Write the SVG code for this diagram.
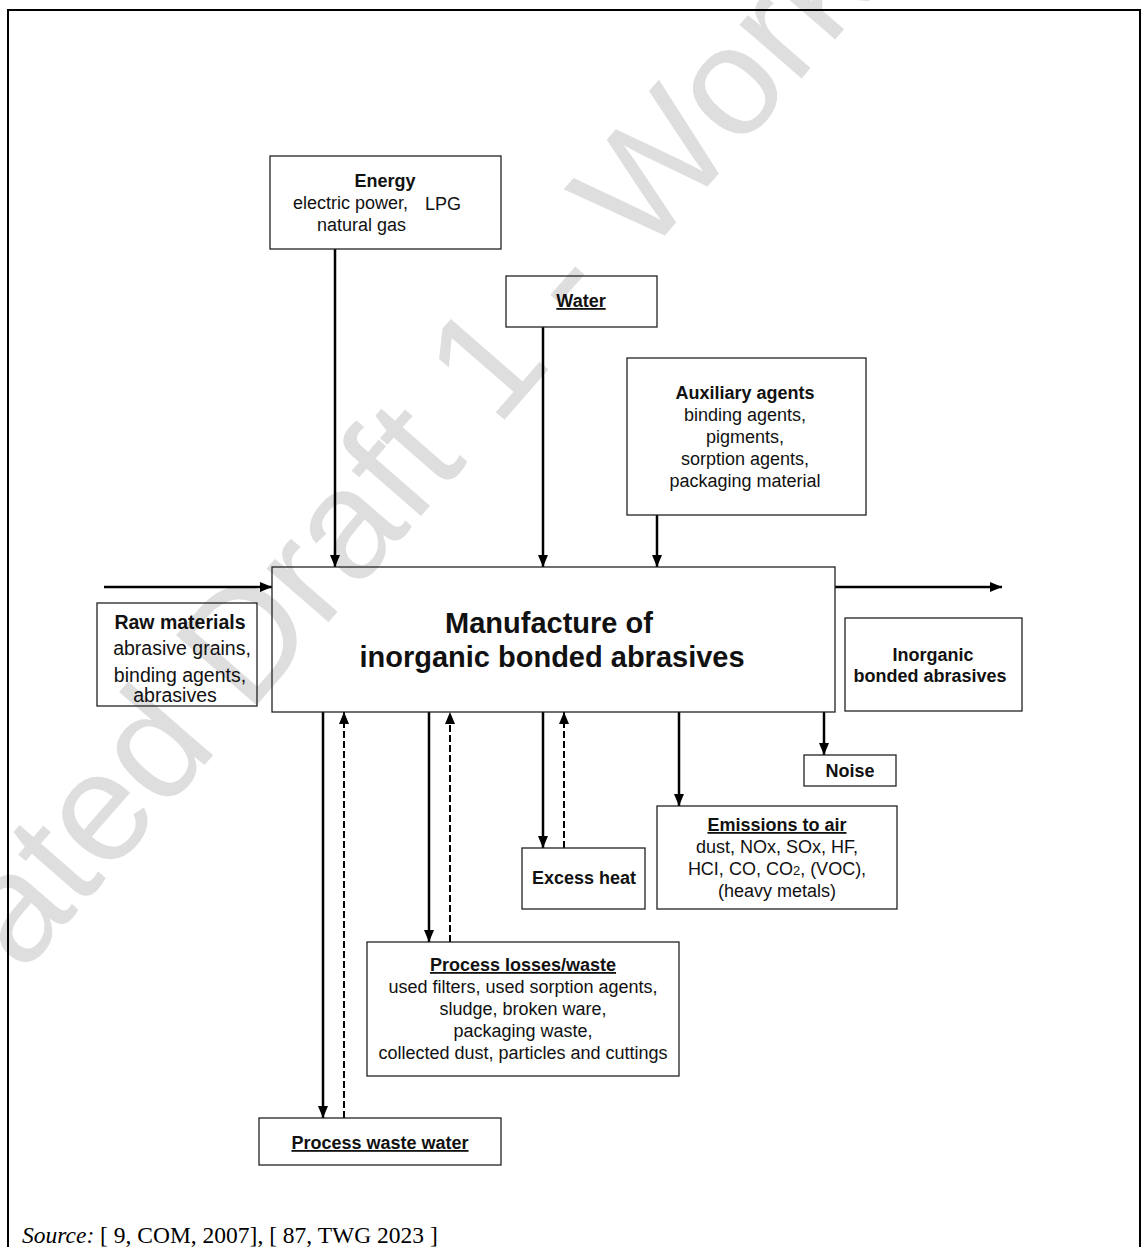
<svg xmlns="http://www.w3.org/2000/svg" width="1143" height="1247" viewBox="0 0 1143 1247">
<style>
.box{fill:none;stroke:#222;stroke-width:1.3}
.t{font-family:"Liberation Sans",Arial,sans-serif;font-size:18px;fill:#111;text-anchor:middle}
.b{font-weight:bold}
.u{text-decoration:underline}
.c{stroke:#000;stroke-width:2.5;fill:none}
.d{stroke:#000;stroke-width:2;fill:none;stroke-dasharray:7 3}
.wm{font-family:"Liberation Sans",Arial,sans-serif;font-size:155px;fill:#dedede}
</style>
<defs>
<marker id="ah" viewBox="0 0 12 10" refX="12" refY="5" markerWidth="12" markerHeight="10" markerUnits="userSpaceOnUse" orient="auto">
<path d="M0,0 L12,5 L0,10 z" fill="#000"/>
</marker>
</defs>
<rect x="0" y="0" width="1143" height="1247" fill="#fff"/>
<text class="wm" x="22" y="975" transform="rotate(-49 22 975)">ated Draft 1 - Work</text>
<rect x="8" y="10" width="1132" height="1260" fill="none" stroke="#000" stroke-width="2"/>

<g id="connectors">
<path class="c" d="M104,587 H272" marker-end="url(#ah)"/>
<path class="c" d="M835,587 H1002" marker-end="url(#ah)"/>
<path class="c" d="M335,249 V567" marker-end="url(#ah)"/>
<path class="c" d="M543,327 V567" marker-end="url(#ah)"/>
<path class="c" d="M657,515 V567" marker-end="url(#ah)"/>
<path class="c" d="M824,712 V755" marker-end="url(#ah)"/>
<path class="c" d="M679,712 V806" marker-end="url(#ah)"/>
<path class="c" d="M543,712 V848" marker-end="url(#ah)"/>
<path class="d" d="M564,848 V712" marker-end="url(#ah)"/>
<path class="c" d="M429,712 V942" marker-end="url(#ah)"/>
<path class="d" d="M450,942 V712" marker-end="url(#ah)"/>
<path class="c" d="M323,712 V1118" marker-end="url(#ah)"/>
<path class="d" d="M344,1118 V712" marker-end="url(#ah)"/>
</g>

<g id="energy">
<rect class="box" x="270" y="156" width="231" height="93"/>
<text class="t b" x="385" y="187">Energy</text>
<text class="t" x="293" y="209" style="text-anchor:start">electric power,</text>
<text class="t" x="425" y="210" style="text-anchor:start">LPG</text>
<text class="t" x="317" y="231" style="text-anchor:start">natural gas</text>
</g>

<g id="water">
<rect class="box" x="506" y="276" width="151" height="51"/>
<text class="t b u" x="581" y="307">Water</text>
</g>

<g id="auxiliary">
<rect class="box" x="627" y="358" width="239" height="157"/>
<text class="t b" x="745" y="399">Auxiliary agents</text>
<text class="t" x="745" y="421">binding agents,</text>
<text class="t" x="745" y="443">pigments,</text>
<text class="t" x="745" y="465">sorption agents,</text>
<text class="t" x="745" y="487">packaging material</text>
</g>

<g id="main">
<rect class="box" x="272" y="567" width="563" height="145"/>
<text class="t b" x="549" y="633" style="font-size:29px">Manufacture of</text>
<text class="t b" x="552" y="667" style="font-size:29px">inorganic bonded abrasives</text>
</g>

<g id="raw">
<rect class="box" x="97" y="603" width="160" height="103"/>
<text class="t b" x="180" y="629" style="font-size:19.5px">Raw materials</text>
<text class="t" x="182" y="655" style="font-size:19.5px">abrasive grains,</text>
<text class="t" x="180" y="682" style="font-size:19.5px">binding agents,</text>
<text class="t" x="175" y="702" style="font-size:19.5px">abrasives</text>
</g>

<g id="product">
<rect class="box" x="845" y="618" width="177" height="93"/>
<text class="t b" x="933" y="661">Inorganic</text>
<text class="t b" x="930" y="682">bonded abrasives</text>
</g>

<g id="noise">
<rect class="box" x="804" y="755" width="92" height="31"/>
<text class="t b" x="850" y="777">Noise</text>
</g>

<g id="emissions">
<rect class="box" x="657" y="806" width="240" height="103"/>
<text class="t b u" x="777" y="831">Emissions to air</text>
<text class="t" x="777" y="853">dust, NOx, SOx, HF,</text>
<text class="t" x="777" y="875">HCI, CO, CO<tspan style="font-size:13px">2</tspan>, (VOC),</text>
<text class="t" x="777" y="897">(heavy metals)</text>
</g>

<g id="heat">
<rect class="box" x="522" y="848" width="123" height="61"/>
<text class="t b" x="584" y="884">Excess heat</text>
</g>

<g id="losses">
<rect class="box" x="367" y="942" width="312" height="134"/>
<text class="t b u" x="523" y="971">Process losses/waste</text>
<text class="t" x="523" y="993">used filters, used sorption agents,</text>
<text class="t" x="523" y="1015">sludge, broken ware,</text>
<text class="t" x="523" y="1037">packaging waste,</text>
<text class="t" x="523" y="1059">collected dust, particles and cuttings</text>
</g>

<g id="wastewater">
<rect class="box" x="259" y="1118" width="242" height="47"/>
<text class="t b u" x="380" y="1149">Process waste water</text>
</g>

<text x="22" y="1243" style="font-family:'Liberation Serif','Times New Roman',serif;font-size:23.5px;fill:#000"><tspan font-style="italic">Source:</tspan> [ 9, COM, 2007], [ 87, TWG 2023 ]</text>
</svg>
